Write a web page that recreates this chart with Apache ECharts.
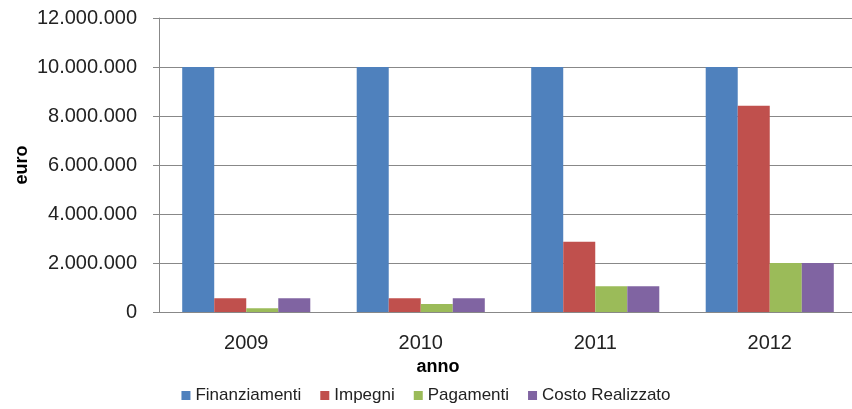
<!DOCTYPE html>
<html>
<head>
<meta charset="utf-8">
<script src="https://cdn.jsdelivr.net/npm/echarts@6/dist/echarts.min.js"></script>
<style>
    html, body { margin: 0; padding: 0; background: #fff; }
    #chart { width: 852px; height: 409px; }
</style>
</head>
<body>
<div id="chart"></div>
<script>
'use strict';
const years = ["2009", "2010", "2011", "2012"];
const finanziamenti = [10000000, 10000000, 10000000, 10000000];
const impegni = [560000, 560000, 2870000, 8420000];
const pagamenti = [150000, 330000, 1050000, 2000000];
const costoRealizzato = [560000, 560000, 1050000, 2000000];

const font = "Liberation Sans";

function fmt(v) {
    return String(v).replace(/\B(?=(\d{3})+(?!\d))/g, ".");
}

const chart = echarts.init(document.getElementById('chart'));

function bar(name, data, color) {
    return {
        name: name,
        type: 'bar',
        data: data,
        barGap: '0%',
        barCategoryGap: '26.6%',
        itemStyle: { color: color },
        animation: false
    };
}

chart.setOption({
    backgroundColor: '#fff',
    textStyle: { fontFamily: font },
    grid: { left: 159, right: -5, top: 18, bottom: 97, outerBoundsMode: 'none', containLabel: false },
    legend: {
        left: 'center',
        top: 382,
        icon: 'rect',
        itemWidth: 9,
        itemHeight: 9,
        itemGap: 19,
        textStyle: { fontFamily: font, fontSize: 17, color: '#222' },
        data: ["Finanziamenti", "Impegni", "Pagamenti", "Costo Realizzato"]
    },
    xAxis: {
        type: 'category',
        data: years,
        name: 'anno',
        nameLocation: 'middle',
        nameGap: 46,
        nameMoveOverlap: false,
        nameTextStyle: { fontFamily: font, fontSize: 18, fontWeight: 'bold', color: '#000', padding: [0, 140, 0, 0] },
        axisLine: { lineStyle: { color: '#888' } },
        axisTick: { length: 6, lineStyle: { color: '#888' } },
        axisLabel: { fontSize: 20, color: '#222', margin: 21 }
    },
    yAxis: {
        type: 'value',
        min: 0,
        max: 12000000,
        interval: 2000000,
        name: 'euro',
        nameLocation: 'middle',
        nameGap: 128,
        nameMoveOverlap: false,
        nameTextStyle: { fontFamily: font, fontSize: 18, fontWeight: 'bold', color: '#000' },
        axisLine: { show: true, lineStyle: { color: '#888' } },
        axisTick: { show: true, length: 6, lineStyle: { color: '#888' } },
        splitLine: { lineStyle: { color: '#888' } },
        axisLabel: { fontSize: 20, color: '#222', margin: 22, formatter: fmt }
    },
    series: [
        bar("Finanziamenti", finanziamenti, '#4F81BD'),
        bar("Impegni", impegni, '#C0504D'),
        bar("Pagamenti", pagamenti, '#9BBB59'),
        bar("Costo Realizzato", costoRealizzato, '#8064A2')
    ]
});
</script>
</body>
</html>
